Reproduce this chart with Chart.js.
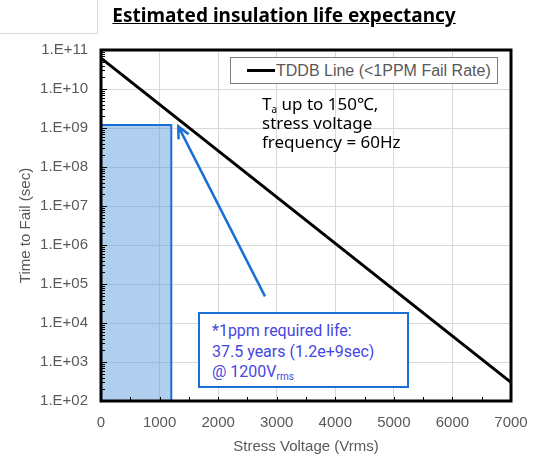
<!DOCTYPE html>
<html>
<head>
<meta charset="utf-8">
<script src="https://cdn.jsdelivr.net/npm/chart.js@4.4.1/dist/chart.umd.min.js"></script>
<style>
  body { margin: 0; background: #fff; }
  #wrap { position: relative; width: 542px; height: 459px; font-family: "Liberation Sans", Arial, sans-serif; }
  #corner { position: absolute; left: 0; top: 0; width: 97px; height: 33px; border-right: 1px solid #d9d9d9; border-bottom: 1px solid #d9d9d9; }
  #title { position: absolute; left: 0; top: 2px; width: 568px; text-align: center; font-family: "Noto Sans", sans-serif; font-weight: bold; font-size: 19px; text-decoration: underline; color: #000; }
  #legend { position: absolute; left: 230px; top: 57px; width: 266px; height: 25px; border: 1px solid #7f7f7f; background: #fff; color: #595959; font-size: 16px; line-height: 25px; white-space: nowrap; }
  #legend i { display: inline-block; width: 28px; height: 3px; background: #000; vertical-align: middle; margin: -2px 1px 0 16px; }
  #cond { position: absolute; left: 262px; top: 94px; font-family: "Noto Sans", sans-serif; font-size: 17px; line-height: 19px; color: #000; }
  #note { position: absolute; left: 198px; top: 312px; width: 195px; height: 72px; border: 2px solid #1a6fd6; background: #fff; font-family: Roboto, sans-serif; font-size: 16px; line-height: 20.5px; color: #4646e0; padding: 0 0 0 12px; box-sizing: content-box; white-space: nowrap; }
  #note div:first-child { margin-top: 7px; }
  sub { font-size: 10px; vertical-align: -3px; line-height: 0; }
  canvas { position: absolute; left: 0; top: 0; }
</style>
</head>
<body>
<div id="wrap">
  <canvas id="chart" width="542" height="459"></canvas>
  <div id="corner"></div>
  <div id="title">Estimated insulation life expectancy</div>
  <div id="legend"><i></i>TDDB Line (&lt;1PPM Fail Rate)</div>
  <div id="cond">T<sub>a</sub> up to 150&#8451;,<br>stress voltage<br>frequency = 60Hz</div>
  <div id="note"><div>*1ppm required life:</div><div>37.5 years (1.2e+9sec)</div><div>@ 1200V<sub>rms</sub></div></div>
</div>
<script>
// TDDB line end points (Vrms, sec)
const tddbVoltage = [0, 7000];
const tddbLife = [6.2e10, 3.0e2];

// required-life region
const boxVoltage = [0, 0, 1200, 1200];
const boxLife = [1e2, 1.2e9, 1.2e9, 1e2];

// axis ticks
const xTicks = [0, 1000, 2000, 3000, 4000, 5000, 6000, 7000];
const xTickLabels = ['0', '1000', '2000', '3000', '4000', '5000', '6000', '7000'];
const yTicks = [1e2, 1e3, 1e4, 1e5, 1e6, 1e7, 1e8, 1e9, 1e10, 1e11];
const yTickLabels = ['1.E+02', '1.E+03', '1.E+04', '1.E+05', '1.E+06', '1.E+07', '1.E+08', '1.E+09', '1.E+10', '1.E+11'];

// arrow from the note to the required life corner (data coords)
const arrowFrom = { x: 2800, y: 4.8e4 };
const arrowTo = { x: 1320, y: 1.1e9 };

const blue = '#1a6fd6';

const framePlugin = {
  id: 'frame',
  afterDraw(chart) {
    const { ctx, chartArea: a, scales: { x, y } } = chart;
    ctx.save();
    // minor ticks
    ctx.strokeStyle = '#000';
    ctx.lineWidth = 1;
    ctx.beginPath();
    for (let e = 2; e < 11; e++) {
      for (let m = 1; m < 10; m++) {
        const py = Math.round(y.getPixelForValue(m * Math.pow(10, e))) + 0.5;
        const len = m === 1 ? 6 : 4;
        ctx.moveTo(a.left, py);
        ctx.lineTo(a.left + len, py);
      }
    }
    for (let v = 500; v < 7000; v += 500) {
      const px = Math.round(x.getPixelForValue(v)) + 0.5;
      ctx.moveTo(px, a.bottom);
      ctx.lineTo(px, a.bottom - 4);
    }
    ctx.stroke();
    // arrow
    const x0 = x.getPixelForValue(arrowFrom.x), y0 = y.getPixelForValue(arrowFrom.y);
    const x1 = x.getPixelForValue(arrowTo.x), y1 = y.getPixelForValue(arrowTo.y);
    const ang = Math.atan2(y1 - y0, x1 - x0);
    ctx.strokeStyle = blue;
    ctx.lineWidth = 2.5;
    ctx.beginPath();
    ctx.moveTo(x0, y0);
    ctx.lineTo(x1, y1);
    ctx.moveTo(x1 - 13 * Math.cos(ang - 0.45), y1 - 13 * Math.sin(ang - 0.45));
    ctx.lineTo(x1, y1);
    ctx.lineTo(x1 - 13 * Math.cos(ang + 0.45), y1 - 13 * Math.sin(ang + 0.45));
    ctx.stroke();
    // plot frame
    ctx.strokeStyle = '#000';
    ctx.lineWidth = 3;
    ctx.strokeRect(a.left, a.top, a.right - a.left, a.bottom - a.top);
    ctx.restore();
  }
};

new Chart(document.getElementById('chart'), {
  type: 'scatter',
  data: {
    datasets: [
      {
        label: 'Required life',
        data: boxVoltage.map((v, i) => ({ x: v, y: boxLife[i] })),
        showLine: true,
        fill: 'start',
        backgroundColor: 'rgba(90,152,218,0.48)',
        borderColor: blue,
        borderWidth: 2,
        pointRadius: 0,
        tension: 0
      },
      {
        label: 'TDDB Line (<1PPM Fail Rate)',
        data: tddbVoltage.map((v, i) => ({ x: v, y: tddbLife[i] })),
        showLine: true,
        borderColor: '#000',
        borderWidth: 3,
        pointRadius: 0
      }
    ]
  },
  options: {
    responsive: false,
    animation: false,
    layout: { padding: { left: 0, right: 31, top: 50, bottom: 0 } },
    plugins: { legend: { display: false }, tooltip: { enabled: false } },
    scales: {
      x: {
        type: 'linear',
        min: 0,
        max: 7000,
        afterBuildTicks: s => { s.ticks = xTicks.map(v => ({ value: v })); },
        afterFit: s => { s.height = 58; },
        grid: { color: '#d9d9d9', drawTicks: false },
        border: { display: false },
        ticks: {
          color: '#595959',
          font: { size: 15, family: '"Liberation Sans", Arial' },
          padding: 13,
          maxRotation: 0,
          callback: (v, i) => xTickLabels[i]
        },
        title: { display: true, text: 'Stress Voltage (Vrms)', color: '#595959', font: { size: 15, family: '"Liberation Sans", Arial' }, padding: { top: 0, bottom: 3 } }
      },
      y: {
        type: 'logarithmic',
        min: 1e2,
        max: 1e11,
        afterBuildTicks: s => { s.ticks = yTicks.map(v => ({ value: v })); },
        afterFit: s => { s.width = 101; },
        grid: { color: '#d9d9d9', drawTicks: false },
        border: { display: false },
        ticks: {
          color: '#595959',
          font: { size: 15, family: '"Liberation Sans", Arial' },
          padding: 13,
          autoSkip: false,
          callback: (v, i) => yTickLabels[i]
        },
        title: { display: true, text: 'Time to Fail (sec)', color: '#595959', font: { size: 15, family: '"Liberation Sans", Arial' }, padding: { top: 17, bottom: 0 } }
      }
    }
  },
  plugins: [framePlugin]
});
</script>
</body>
</html>
